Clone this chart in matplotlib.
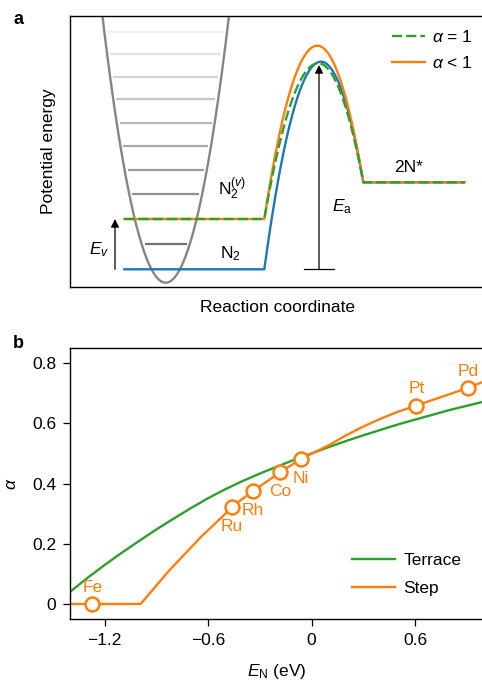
import numpy as np
import matplotlib.pyplot as plt

plt.rcParams['font.family'] = ['Liberation Sans', 'DejaVu Sans']
plt.rcParams['mathtext.fontset'] = 'custom'
plt.rcParams['mathtext.rm'] = 'Liberation Sans'
plt.rcParams['mathtext.it'] = 'Liberation Sans:italic'
plt.rcParams['font.size'] = 12.5

blue = '#1f77b4'
orange = '#ff7f0e'
green = '#2ca02c'

# ---- panel a: schematic energy levels (arbitrary units) ----
well_centre = 95.7
well_bottom = 4.3
well_curv = 0.0666
vib_levels = [42.7, 68.0, 92.7, 116.7, 141.0, 164.3, 187.7, 210.3, 232.7, 254.7]
e_ground = 17.7
e_excited = 68.0
e_product = 104.7
reactant_x = [54.3, 194.3]
product_x = [293.3, 394.3]
# blue (N2), green (alpha = 1), orange (alpha < 1)
barrier_start = [17.7, 68.0, 68.0]
barrier_peak_x = [251.0, 248.3, 247.3]
barrier_peak_e = [225.3, 223.7, 241.3]

# ---- panel b ----
terrace_en = [-1.4, -1.3, -1.2, -1.1, -1.0, -0.9, -0.8, -0.7, -0.6, -0.5, -0.4, -0.3, -0.2,
              -0.1, 0.0, 0.1, 0.2, 0.3, 0.4, 0.5, 0.6, 0.7, 0.8, 0.9, 1.0]
terrace_alpha = [0.040, 0.086, 0.129, 0.170, 0.209, 0.247, 0.283, 0.318, 0.351, 0.381, 0.408,
                 0.433, 0.456, 0.479, 0.500, 0.521, 0.541, 0.560, 0.578, 0.596, 0.612, 0.628,
                 0.644, 0.658, 0.672]
step_en = [-1.4, -1.27, -0.99, -0.83, -0.64, -0.50, -0.461, -0.339, -0.180, -0.060,
           0.1, 0.2, 0.3, 0.4, 0.5, 0.608, 0.909, 1.0]
step_alpha = [0.0, 0.0, 0.0, 0.108, 0.223, 0.299, 0.323, 0.375, 0.438, 0.482,
              0.527, 0.560, 0.589, 0.615, 0.638, 0.659, 0.718, 0.739]
metals = ['Fe', 'Ru', 'Rh', 'Co', 'Ni', 'Pt', 'Pd']
metal_en = [-1.27, -0.461, -0.339, -0.180, -0.060, 0.608, 0.909]
metal_alpha = [0.0, 0.323, 0.375, 0.438, 0.482, 0.659, 0.718]
label_above = ['Fe', 'Pt', 'Pd']


def barrier(x0, e0, xp, ep, x1, e1, n=80):
    left = np.linspace(x0, xp, n)
    right = np.linspace(xp, x1, n)
    yl = ep - (ep - e0) * ((left - xp) / (x0 - xp)) ** 2
    yr = ep - (ep - e1) * ((right - xp) / (x1 - xp)) ** 2
    return np.r_[left, right[1:]], np.r_[yl, yr[1:]]


fig = plt.figure(figsize=(4.82, 6.8), dpi=100)
ax = fig.add_axes([70 / 482, 1 - 287 / 680, 414 / 482, 271 / 680])
ax.set_xlim(0, 414)
ax.set_ylim(0, 271)
ax.set_xticks([])
ax.set_yticks([])
for s in ax.spines.values():
    s.set_linewidth(1.0)

# well + vibrational levels
greys = np.linspace(0.45, 0.94, len(vib_levels))
for e, g in zip(vib_levels, greys):
    hw = np.sqrt((e - well_bottom) / well_curv) - 3
    ax.plot([well_centre - hw, well_centre + hw], [e, e], color=str(g), lw=1.6, zorder=1,
            solid_capstyle='butt')
xw = np.linspace(well_centre - 70, well_centre + 70, 300)
ax.plot(xw, well_bottom + well_curv * (xw - well_centre) ** 2, color='#858585', lw=1.7, zorder=2)

# reaction paths
paths = {}
for i in range(3):
    bx_, by_ = barrier(reactant_x[1], barrier_start[i], barrier_peak_x[i], barrier_peak_e[i],
                       product_x[0], e_product)
    paths[i] = (np.r_[reactant_x[0], bx_, product_x[1]], np.r_[barrier_start[i], by_, e_product])

ax.plot(*paths[0], color=blue, lw=1.7, zorder=3)
l_orange, = ax.plot(*paths[2], color=orange, lw=1.7, zorder=4)
l_green, = ax.plot(*paths[1], color=green, lw=1.7, ls=(0, (4.3, 1.7)), zorder=5)

arrow = dict(arrowstyle='-|>', color='black', lw=0.9, mutation_scale=12, shrinkA=0, shrinkB=0)
ax.annotate('', xy=(45, e_excited), xytext=(45, e_ground), arrowprops=arrow)
ax.annotate('', xy=(249, 222), xytext=(249, e_ground), arrowprops=arrow)
ax.plot([234, 264.3], [e_ground, e_ground], color='black', lw=0.9)

ax.text(19.3, 33, r'$E_v$', ha='left', va='baseline')
ax.text(148.3, 92, r'N$_2^{(v)}$', ha='left', va='baseline')
ax.text(150, 28.7, r'N$_2$', ha='left', va='baseline')
ax.text(262.3, 75.3, r'$E_{\mathrm{a}}$', ha='left', va='baseline')
ax.text(324.3, 114.7, '2N*', ha='left', va='baseline')

ax.set_ylabel('Potential energy', labelpad=10)
ax.set_xlabel('Reaction coordinate', labelpad=9)
ax.legend([l_green, l_orange], [r'$\alpha$ = 1', r'$\alpha$ < 1'], loc='center left',
          bbox_to_anchor=(0.756, 0.8745), frameon=False, borderpad=0,
          handlelength=1.9, handletextpad=0.4, labelspacing=0.55)

fig.text(18 / 482, 1 - 20 / 680, 'a', fontsize=13, fontweight='bold', ha='center', va='center')

# ---- panel b ----
bx = fig.add_axes([70 / 482, 1 - 619 / 680, 414 / 482, 271 / 680])
bx.plot(terrace_en, terrace_alpha, color=green, lw=1.7, label='Terrace')
bx.plot(step_en, step_alpha, color=orange, lw=1.7, label='Step')
bx.plot(metal_en, metal_alpha, 'o', ms=10, mfc='white', mec=orange, mew=1.8, ls='none')
for m, xe, a in zip(metals, metal_en, metal_alpha):
    dy = 12 if m in label_above else -14
    bx.annotate(m, (xe, a), xytext=(0, dy), textcoords='offset points', ha='center',
                va='center', color=orange)
bx.set_xlim(-1.4, 1.0)
bx.set_ylim(-0.05, 0.85)
bx.set_xticks([-1.2, -0.6, 0, 0.6])
bx.set_xticklabels(['\u22121.2', '\u22120.6', '0', '0.6'])
bx.set_yticks([0, 0.2, 0.4, 0.6, 0.8])
bx.set_yticklabels(['0', '0.2', '0.4', '0.6', '0.8'])
bx.tick_params(length=5, width=0.9, pad=5)
for s in bx.spines.values():
    s.set_linewidth(1.0)
bx.set_xlabel(r'$E_{\mathrm{N}}$ (eV)', labelpad=10)
bx.set_ylabel(r'$\alpha$', labelpad=9)
bx.legend(loc='center left', bbox_to_anchor=(0.659, 0.164), frameon=False, borderpad=0,
          handlelength=2.5, handletextpad=0.5, labelspacing=0.7)

fig.text(18 / 482, 1 - 343 / 680, 'b', fontsize=13, fontweight='bold', ha='center', va='center')

fig.savefig('out.png', dpi=100)
